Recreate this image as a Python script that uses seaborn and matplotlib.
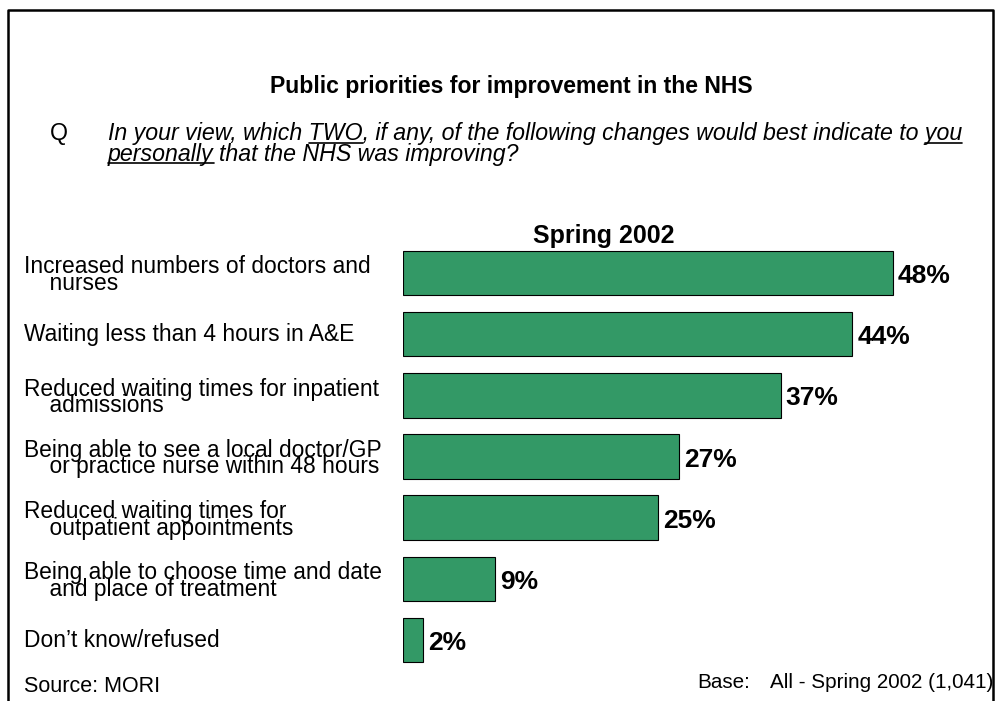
import matplotlib
matplotlib.use("Agg")
import matplotlib.pyplot as plt
import matplotlib.transforms as mtransforms
import seaborn as sns
import pandas as pd
from matplotlib.lines import Line2D

categories = [
    "Increased numbers of doctors and\n    nurses",
    "Waiting less than 4 hours in A&E",
    "Reduced waiting times for inpatient\n    admissions",
    "Being able to see a local doctor/GP\n    or practice nurse within 48 hours",
    "Reduced waiting times for\n    outpatient appointments",
    "Being able to choose time and date\n    and place of treatment",
    "Don\u2019t know/refused",
]
values = [48, 44, 37, 27, 25, 9, 2]
value_labels = [f"{v}%" for v in values]

title = "Public priorities for improvement in the NHS"
q_line1 = "In your view, which TWO, if any, of the following changes would best indicate to you"
q_line2 = "personally that the NHS was improving?"
series_name = "Spring 2002"
source = "Source: MORI"
base_label = "Base:"
base_text = "All - Spring 2002 (1,041)"

sns.set_theme(style="white")
plt.rcParams["font.family"] = ["Liberation Sans", "DejaVu Sans"]
plt.rcParams["text.color"] = "black"

W, H = 1000, 701
fig = plt.figure(figsize=(W / 100, H / 100), dpi=100)
fig.patch.set_facecolor("white")

def fx(px):
    return px / W

def fy(py):
    return 1 - py / H

# axes placement
x0_px, px_per_unit = 403, 10.21
xmax = 55
top_px, bot_px = 242.4, 670.6
ax = fig.add_axes([fx(x0_px), fy(bot_px), xmax * px_per_unit / W, (bot_px - top_px) / H])

df = pd.DataFrame({"item": categories, "pct": values})
sns.barplot(data=df, x="pct", y="item", orient="h", color="#339966",
            saturation=1, width=0.73, edgecolor="black", linewidth=0.8, ax=ax)
ax.set_xlim(0, xmax)
ax.set_xlabel("")
ax.set_ylabel("")
ax.set_xticks([])
ax.set_yticks([])
for s in ax.spines.values():
    s.set_visible(False)
ax.patch.set_alpha(0)

for i, (v, lab) in enumerate(zip(values, value_labels)):
    ax.annotate(lab, (v, i), xytext=(3.6, -7.3), textcoords="offset points",
                ha="left", va="baseline", fontsize=19, fontweight="bold", color="black")

trans = mtransforms.blended_transform_factory(fig.transFigure, ax.transData)
for i, cat in enumerate(categories):
    shift = -1.5 if "\n" in cat else 0.0
    t = mtransforms.offset_copy(trans, fig=fig, x=0, y=shift, units="points")
    ax.text(fx(24), i, cat, transform=t, ha="left", va="center",
            fontsize=16.4, linespacing=0.65, color="black")

fig.text(fx(604), fy(243.3), series_name, ha="center", va="baseline",
         fontsize=18, fontweight="bold")

fig.text(fx(511), fy(86), title, ha="center", va="center", fontsize=16.6, fontweight="bold")

QFS = 16.65
fig.text(fx(50), fy(140), "Q", ha="left", va="baseline", fontsize=QFS)
qx_px = 108
fig.text(fx(qx_px), fy(144), q_line1 + "\n" + q_line2, ha="left", va="center",
         fontsize=QFS, style="italic", linespacing=0.9)

fig.text(fx(24), fy(686), source, ha="left", va="center", fontsize=15.5)
fig.text(fx(697), fy(688.3), base_label, ha="left", va="baseline", fontsize=14.9)
fig.text(fx(993), fy(688.3), base_text, ha="right", va="baseline", fontsize=14.9)

# underlines
renderer = fig.canvas.get_renderer()
def width_px(s):
    t = fig.text(0, 0, s, fontsize=QFS, style="italic")
    w = t.get_window_extent(renderer).width
    t.remove()
    return w

def underline(line, word, from_end, ypx):
    idx = line.rfind(word) if from_end else line.find(word)
    end_w = width_px(line[:idx + len(word)])
    w_word = width_px(word)
    xs = (qx_px + end_w - w_word, qx_px + end_w)
    fig.add_artist(Line2D([fx(xs[0]), fx(xs[1])], [fy(ypx), fy(ypx)],
                          transform=fig.transFigure, color="black", linewidth=1.2))

underline(q_line1, "TWO", False, 142.5)
underline(q_line1, "you", True, 142.5)
underline(q_line2, "personally", False, 162.5)

# frame border (left, top, right)
fig.add_artist(Line2D([fx(7.5), fx(7.5), fx(992.5), fx(992.5)],
                      [0, fy(10), fy(10), 0], transform=fig.transFigure,
                      color="black", linewidth=1.8))

fig.savefig("out.png", dpi=100)
